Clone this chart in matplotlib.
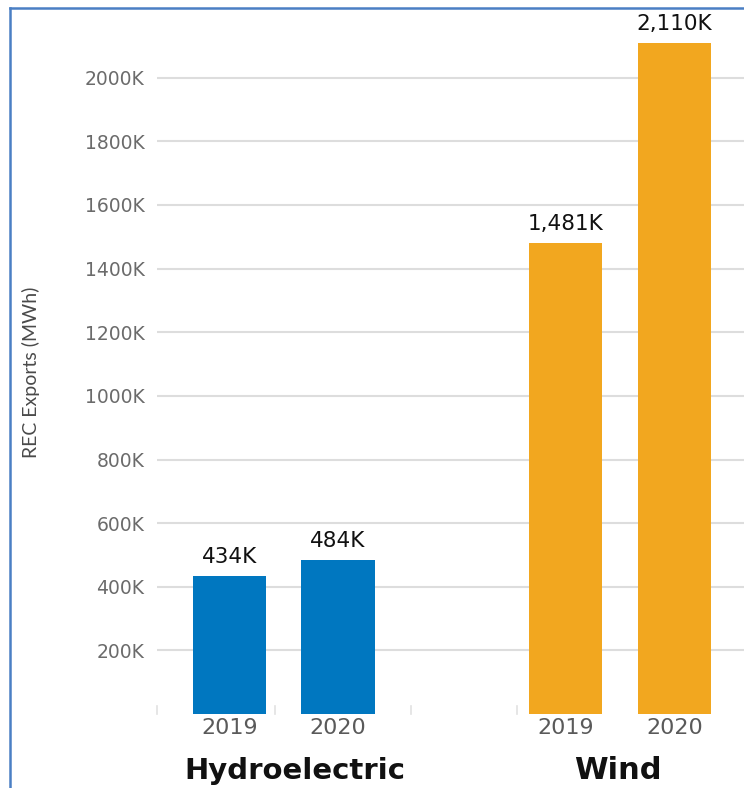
import matplotlib.pyplot as plt
from matplotlib.lines import Line2D

# data
groups = ['Hydroelectric', 'Wind']
years = ['2019', '2020', '2019', '2020']
values = [434000, 484000, 1481000, 2110000]
value_labels = ['434K', '484K', '1,481K', '2,110K']
positions = [0, 1, 3.1, 4.1]
colors = ['#0077c0', '#0077c0', '#f2a71f', '#f2a71f']
yticks = [200000, 400000, 600000, 800000, 1000000, 1200000, 1400000,
          1600000, 1800000, 2000000]
ytick_labels = ['200K', '400K', '600K', '800K', '1000K', '1200K', '1400K',
                '1600K', '1800K', '2000K']

plt.rcParams['font.family'] = ['DejaVu Sans']

fig = plt.figure(figsize=(7.44, 7.88), dpi=100)
ax = fig.add_axes([0.211, 0.0939, 0.789, 0.868])

ax.bar(positions, values, width=0.675, color=colors, zorder=3)

for x, v, lab in zip(positions, values, value_labels):
    ax.text(x, v + 28000, lab, ha='center', va='bottom', fontsize=15.5,
            color='#111111', zorder=4)

ax.set_ylim(0, 2150000)
ax.set_xlim(-0.668, 4.742)
ax.set_yticks(yticks)
ax.set_yticklabels(ytick_labels)
ax.set_xticks(positions)
ax.set_xticklabels(years)
ax.tick_params(axis='y', length=0, pad=9, labelsize=13.5, labelcolor='#6b6b6b')
ax.tick_params(axis='x', length=0, pad=3, labelsize=16, labelcolor='#5a5a5a')
ax.grid(axis='y', color='#dddddd', linewidth=1.5, zorder=0)
for s in ax.spines.values():
    s.set_visible(False)

ax.set_ylabel('REC Exports (MWh)', fontsize=14, color='#4a4a4a', labelpad=32,
              family='Lato')

# faint separator ticks on the baseline
for xs in [-0.668, 0.42, 1.67, 2.65]:
    ax.plot([xs, xs], [0, 25000], color='#e2e2e2', linewidth=1.2, zorder=1,
            clip_on=False)

# group labels
ax.text(0.6, -0.083, groups[0], transform=ax.get_xaxis_transform(),
        ha='center', va='center', fontsize=21, fontweight='bold', color='#111111')
ax.text(3.58, -0.083, groups[1], transform=ax.get_xaxis_transform(),
        ha='center', va='center', fontsize=22, fontweight='bold', color='#111111')

# blue frame lines at left and top
fig.add_artist(Line2D([0.0134, 0.0134], [0.0, 0.99], color='#4a7fc4',
                      linewidth=1.8, transform=fig.transFigure))
fig.add_artist(Line2D([0.0134, 1.0], [0.99, 0.99], color='#4a7fc4',
                      linewidth=1.8, transform=fig.transFigure))

fig.savefig('out.png', dpi=100)
